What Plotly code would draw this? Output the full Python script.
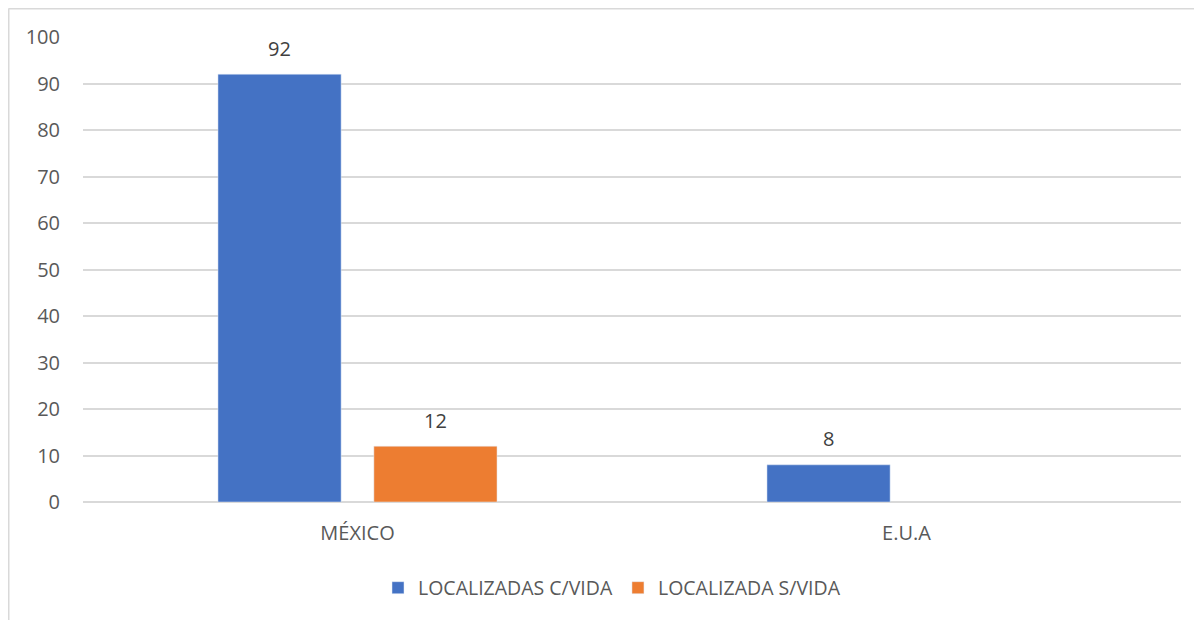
import plotly.graph_objects as go

# categories and series
paises = ["MÉXICO", "E.U.A"]
con_vida = [92, 8]
sin_vida = [12, None]

azul = "#4472C4"
naranja = "#ED7D31"
gris = "#595959"

# the page body adds an 8px offset, so the figure is a little smaller
W, H = 1194, 612
ml, mr, mt, mb = 75, 21, 29, 118

fig = go.Figure()
fig.add_trace(go.Bar(x=paises, y=con_vida, name="LOCALIZADAS C/VIDA",
                     marker_color=azul, offsetgroup="a"))
fig.add_trace(go.Bar(x=paises, y=sin_vida, name="LOCALIZADA S/VIDA",
                     marker_color=naranja, offsetgroup="b"))

# data labels sit well above the bars, as in the original
for serie, desplaz in ((con_vida, -78), (sin_vida, 78)):
    for p, v in zip(paises, serie):
        if v is None:
            continue
        fig.add_annotation(x=p, y=v, text=str(v), showarrow=False, xshift=desplaz,
                           yshift=26, font=dict(size=20, color="#404040"))

pw = W - ml - mr
ph = H - mt - mb
# thin frame of the chart area (left and top edges visible)
x0 = (0.5 - ml) / pw
y1 = (H - mb - 0.5) / ph
fig.add_shape(type="line", xref="paper", yref="paper", x0=x0, x1=x0,
              y0=-mb / ph, y1=y1, line=dict(color="#d9d9d9", width=2))
fig.add_shape(type="line", xref="paper", yref="paper", x0=x0, x1=(W - ml) / pw,
              y0=y1, y1=y1, line=dict(color="#d9d9d9", width=2))

fig.update_layout(
    width=W, height=H,
    margin=dict(l=ml, r=mr, t=mt, b=mb, autoexpand=False),
    paper_bgcolor="white", plot_bgcolor="white",
    font=dict(family="Open Sans, Liberation Sans, sans-serif", size=20, color=gris),
    barmode="group", bargap=0.432, bargroupgap=0.21,
    showlegend=True,
    legend=dict(orientation="h", x=(612 - 8) / W, xanchor="center", xref="container",
                y=(H - 580) / H, yanchor="middle", yref="container",
                font=dict(size=19.5, color=gris), itemwidth=30),
)
fig.update_xaxes(showgrid=False, showline=False, ticks="", ticklabelstandoff=17,
                 automargin=False)
fig.update_yaxes(range=[0, 100], dtick=10, showgrid=True, gridcolor="#d9d9d9",
                 gridwidth=1.5, zeroline=True, zerolinecolor="#d9d9d9", zerolinewidth=1.5,
                 ticks="", ticklabelstandoff=22, automargin=False)

fig.write_html("out.html")
